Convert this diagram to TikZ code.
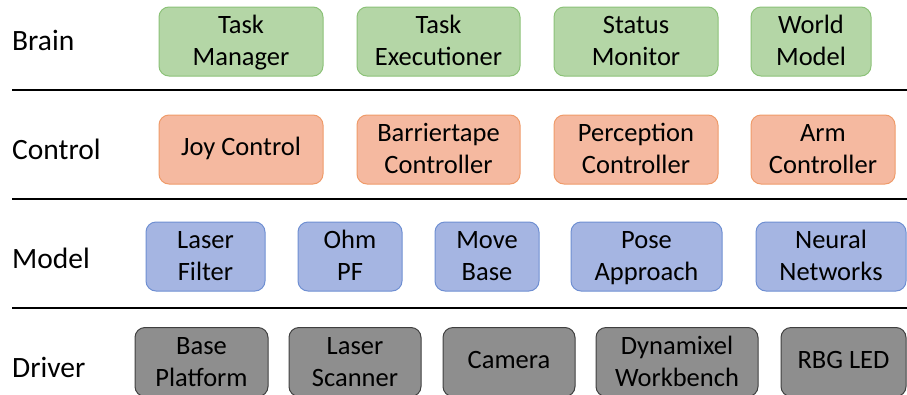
\documentclass[tikz,border=0pt]{standalone}
\usepackage{fontspec}
\setmainfont{Carlito}
\usepackage{xcolor}
\usetikzlibrary{positioning}

\definecolor{brainfill}{HTML}{B4D6A6}
\definecolor{braindraw}{HTML}{8CC278}
\definecolor{controlfill}{HTML}{F5B9A0}
\definecolor{controldraw}{HTML}{EF9B6A}
\definecolor{modelfill}{HTML}{A5B5E2}
\definecolor{modeldraw}{HTML}{6F8FD2}
\definecolor{driverfill}{HTML}{8E8E8E}
\definecolor{driverdraw}{HTML}{404040}

\begin{document}
\begin{tikzpicture}[x=1pt,y=-1pt,
		layer/.style={anchor=base west,inner sep=0pt,font=\fontsize{29.5}{34}\selectfont},
		box/.style={rounded corners=10pt,line width=1pt,minimum height=69pt,outer sep=0pt,
			minimum width=#1,text width=#1,align=flush center,inner sep=0pt,
			font=\fontsize{26.5}{32}\selectfont,
			execute at begin node=\strut,execute at end node=\rule[-5.6pt]{0pt}{1pt}},
		brain/.style={box=#1,draw=braindraw,fill=brainfill},
		control/.style={box=#1,draw=controldraw,fill=controlfill},
		model/.style={box=#1,draw=modeldraw,fill=modelfill},
		driver/.style={box=#1,draw=driverdraw,fill=driverfill}]
		\clip (0,0) rectangle (907,394);

		% layer names
		\node[layer] (brainlabel) at (12,50) {Brain};
		\node[layer] (controllabel) at (12,159) {Control};
		\node[layer] (modellabel) at (12,268) {Model};
		\node[layer] (driverlabel) at (12,377) {Driver};

		% separators
		\draw[line width=2pt] (12,90) -- (907,90);
		\draw[line width=2pt] (12,199) -- (907,199);
		\draw[line width=2pt] (12,308) -- (907,308);

		% brain
		\begin{scope}[node distance=34pt]
		\node[brain=164pt,anchor=west] (taskmanager) at (159,41.5) {Task\\Manager};
		\node[brain=163pt,right=of taskmanager] (taskexec) {Task\\Executioner};
		\node[brain=164pt,right=of taskexec] (statusmon) {Status\\Monitor};
		\node[brain=120pt,right=33pt of statusmon] (worldmodel) {World\\Model};
		\end{scope}

		% control
		\begin{scope}[node distance=34pt]
		\node[control=164pt,anchor=west] (joycontrol) at (159,149.5) {Joy Control};
		\node[control=163pt,right=of joycontrol] (barriertape) {Barriertape\\Controller};
		\node[control=164pt,right=of barriertape] (perception) {Perception\\Controller};
		\node[control=144pt,right=33pt of perception] (armcontrol) {Arm\\Controller};
		\end{scope}

		% model
		\begin{scope}[node distance=33pt]
		\node[model=119pt,anchor=west] (laserfilter) at (146,256.5) {Laser\\Filter};
		\node[model=104pt,right=of laserfilter] (ohmpf) {Ohm\\PF};
		\node[model=104pt,right=of ohmpf] (movebase) {Move\\Base};
		\node[model=151pt,right=32pt of movebase] (poseapproach) {Pose\\Approach};
		\node[model=150pt,right=34pt of poseapproach] (neuralnet) {Neural\\Networks};
		\end{scope}

		% driver
		\begin{scope}[node distance=21pt]
		\node[driver=133pt,anchor=west] (baseplatform) at (135,362) {Base\\Platform};
		\node[driver=132pt,right=of baseplatform] (laserscanner) {Laser\\Scanner};
		\node[driver=132pt,right=22pt of laserscanner] (camera) {Camera};
		\node[driver=162pt,right=of camera] (dynamixel) {Dynamixel\\Workbench};
		\node[driver=125pt,right=23pt of dynamixel] (rgbled) {RBG LED};
		\end{scope}
	\end{tikzpicture}
\end{document}
